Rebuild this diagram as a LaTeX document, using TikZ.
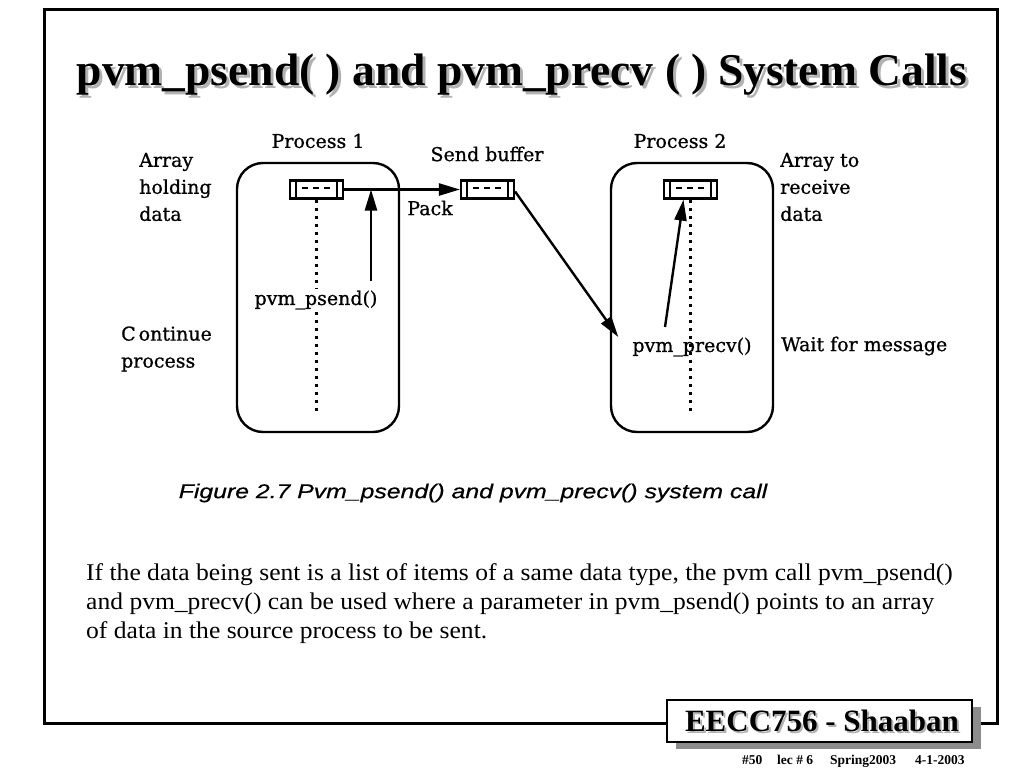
\documentclass[tikz,border=0pt]{standalone}
\usepackage{fontspec}
\setmainfont{Liberation Serif}
\newfontfamily\diafont[FakeBold=0.8]{DejaVu Serif}
\newfontfamily\capfont[FakeBold=0.5]{Liberation Sans}
\usetikzlibrary{arrows.meta,shadows}
\newcommand\hs[2]{\scalebox{#1}[1]{#2}}
\newcommand\shadowtext[2]{\makebox[0pt][l]{\hspace{#1}\raisebox{-#1}{\color{black!30}#2}}#2}
\tikzset{
  frame/.style={line width=3pt},
  proc/.style={draw, line width=2.4pt, rounded corners=26pt, minimum width=162pt, minimum height=269pt, inner sep=0pt},
  arrbox/.style={draw, line width=2.2pt, minimum width=53pt, minimum height=18pt, inner sep=0pt,
    path picture={
      \draw[line width=2pt] ([xshift=6pt]path picture bounding box.north west) -- ([xshift=6pt]path picture bounding box.south west);
      \draw[line width=2pt] ([xshift=-6pt]path picture bounding box.north east) -- ([xshift=-6pt]path picture bounding box.south east);
      \draw[line width=2pt, dash pattern=on 6pt off 5pt] ([xshift=12pt,yshift=-7pt]path picture bounding box.north west) -- ([xshift=-11pt,yshift=-7pt]path picture bounding box.north east);
    }},
  lbl/.style={font=\diafont\fontsize{19}{27}\selectfont, inner sep=2pt},
  sidelbl/.style={lbl, align=left, anchor=west, inner sep=0pt},
  conn/.style={line width=2.4pt, -{Triangle[length=21pt,width=12pt]}},
  dots/.style={line width=2.8pt, dash pattern=on 3pt off 5pt},
  para/.style={font=\fontsize{24}{27}\selectfont, anchor=west, inner sep=0pt},
  ttl/.style={font=\fontsize{45.5}{50}\selectfont\bfseries},
  foottxt/.style={font=\fontsize{13.5}{15}\selectfont\bfseries, anchor=base west, inner sep=0pt}
}
\begin{document}
\begin{tikzpicture}[x=1pt,y=-1pt]
\useasboundingbox (0,0) rectangle (1024,768);
\fill[white] (0,0) rectangle (1024,768);
% frame
\draw[frame] (44,10) rectangle (997,723);
% title
\node[ttl] (title) at (522,76) {\shadowtext{3pt}{pvm\_psend( ) and pvm\_precv ( ) System Calls}};
% processes
\node[proc] (p1) at (318,297.5) {};
\node[proc] (p2) at (692,297.5) {};
\node[lbl] (p1l) at (318,141) {Process 1};
\node[lbl] (p2l) at (680,141) {Process 2};
\node[lbl] (sbl) at (487,154) {Send buffer};
% arrays
\node[arrbox] (arr1) at (316.5,189.5) {};
\node[arrbox] (sb) at (487.5,189.5) {};
\node[arrbox] (arr2) at (690.5,189.5) {};
% inner texts
\node[lbl] (psend) at (316,300) {pvm\_psend()};
\node[lbl] (precv) at (692,347) {pvm\_precv()};
\node[lbl] (pack) at (430,208) {Pack};
% side labels
\node[sidelbl] (hold) at (139,187) {Array\\holding\\data};
\node[sidelbl] (cont) at (121,349) {C\hspace{3pt}ontinue\\process};
\node[sidelbl] (recv) at (780,187) {Array to\\receive\\data};
\node[sidelbl] (wait) at (781,346) {Wait for message};
% dotted lifelines
\coordinate (e1) at (316.5,412);
\coordinate (e2) at (690.5,412);
\draw[dots] (arr1.south) -- (psend.north -| arr1.south);
\draw[dots] (psend.south -| arr1.south) -- (e1);
\draw[dots] (arr2.south) -- (e2);
% connectors
\coordinate (j1) at (371,189.5);
\coordinate (s1) at (371,281);
\coordinate (r1) at (665,327);
\draw[conn] (arr1.east) -- (sb.west);
\draw[conn] (s1) -- (j1);
\draw[conn] ([yshift=-2pt]sb.east) -- ([xshift=-12pt,yshift=10pt]precv.west);
\draw[conn] (r1) -- ([xshift=-7pt]arr2.south);
% caption
\node[font=\capfont\itshape\fontsize{20}{24}\selectfont] (cap) at (473,493) {\hs{1.24}{Figure 2.7 Pvm\_psend() and pvm\_precv() system call}};
% paragraph
\node[para] (l1) at (86,575) {\hs{1.065}{If the data being sent is a list of items of a same data type, the pvm call pvm\_psend()}};
\node[para] (l2) at (86,604) {\hs{1.065}{and pvm\_precv() can be used where a parameter in pvm\_psend() points to an array}};
\node[para] (l3) at (86,633) {\hs{1.065}{of data in the source process to be sent.}};
% footer
\node[draw, line width=1.2pt, fill=white, minimum width=305pt, minimum height=42pt,
  drop shadow={shadow xshift=9pt, shadow yshift=-7pt, fill=black!45, opacity=1}] (foot) at (819.5,721) {};
\node[font=\fontsize{31}{34}\selectfont\bfseries] (footl) at (822,722) {\shadowtext{2pt}{EECC756 - Shaaban}};
\node[foottxt] (f1) at (742,764) {\#50};
\node[foottxt] (f2) at (777,764) {lec \# 6};
\node[foottxt] (f3) at (830,764) {Spring2003};
\node[foottxt] (f4) at (915,764) {4-1-2003};
\end{tikzpicture}
\end{document}
